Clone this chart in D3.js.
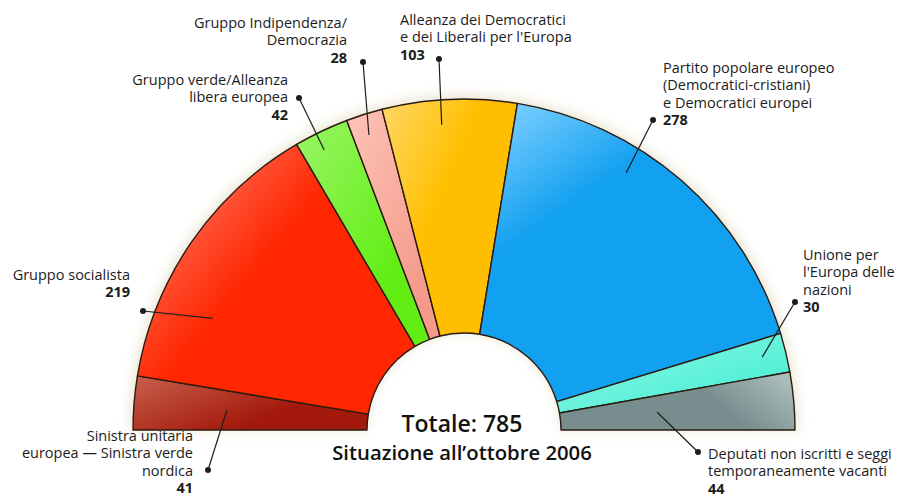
<!DOCTYPE html>
<html>
<head>
<meta charset="utf-8">
<script src="https://cdn.jsdelivr.net/npm/d3@7"></script>
<style>
  html, body { margin: 0; padding: 0; background: #fff; }
  svg { display: block; }
</style>
</head>
<body>
<div id="chart"></div>
<script>
(() => {
  // seats per group, left to right round the hemicycle
  const groups = [
    "Sinistra unitaria europea — Sinistra verde nordica",
    "Gruppo socialista",
    "Gruppo verde/Alleanza libera europea",
    "Gruppo Indipendenza/Democrazia",
    "Alleanza dei Democratici e dei Liberali per l'Europa",
    "Partito popolare europeo (Democratici-cristiani) e Democratici europei",
    "Unione per l'Europa delle nazioni",
    "Deputati non iscritti e seggi temporaneamente vacanti"
  ];
  const seats = [41, 219, 42, 28, 103, 278, 30, 44];
  const labelLines = [
    ["Sinistra unitaria", "europea — Sinistra verde", "nordica"],
    ["Gruppo socialista"],
    ["Gruppo verde/Alleanza", "libera europea"],
    ["Gruppo Indipendenza/", "Democrazia"],
    ["Alleanza dei Democratici", "e dei Liberali per l'Europa"],
    ["Partito popolare europeo", "(Democratici-cristiani)", "e Democratici europei"],
    ["Unione per", "l'Europa delle", "nazioni"],
    ["Deputati non iscritti e seggi", "temporaneamente vacanti"]
  ];
  const totalLabel = "Totale: " + d3.sum(seats);
  const subtitle = "Situazione all’ottobre 2006";

  // styles
  const baseColors  = ["#a3190b", "#ff2600", "#62ee14", "#f59a8a", "#ffbf00", "#12a0f0", "#4cefd4", "#788e8e"];
  const lightColors = ["#c9604e", "#ff7a66", "#9af566", "#fcc4b8", "#ffd866", "#7ccfff", "#96f7e8", "#b4c4c4"];
  // gradient direction per slice (light end first) and where the base colour takes over
  const gradDir = [
    [0, 0, 1, 0.6], [0.05, 0.15, 0.6, 0.6], [0, 0, 1, 1], [0, 0, 1, 1],
    [0, 0, 0.8, 0.6], [0.1, 0, 0.45, 0.5], [0, 0, 1, 1], [1, 0, 0, 0.3]
  ];
  const gradStop = [0.75, 0.7, 0.7, 0.8, 0.6, 0.65, 0.8, 0.45];

  // callout layout: dot position, leader end (fraction across slice, radius), text anchor
  const callouts = [
    { dot: [208, 470], t: 0.50, r: 238, anchor: "end",   tx: 193, ty: 441 },
    { dot: [143, 311], t: 0.29, r: 275, anchor: "end",   tx: 130, ty: 280 },
    { dot: [299, 98],  t: 0.40, r: 313, anchor: "end",   tx: 288, ty: 85 },
    { dot: [363, 62],  t: 0.45, r: 310, anchor: "end",   tx: 347, ty: 28 },
    { dot: [439, 59],  t: 0.43, r: 306, anchor: "start", tx: 400, ty: 25 },
    { dot: [653, 120], t: 0.36, r: 304, anchor: "start", tx: 663, ty: 73 },
    { dot: [795, 302], t: 0.47, r: 307, anchor: "start", tx: 803, ty: 260 },
    { dot: [698, 452], t: 0.48, r: 194, anchor: "start", tx: 708, ty: 459 }
  ];

  const W = 899, H = 497;
  const cx = 464, cy = 430, outerR = 331, innerR = 97;
  const lineH = 17.4;

  const svg = d3.select("#chart").append("svg")
    .attr("width", W).attr("height", H)
    .style("font-family", "'Open Sans', 'Noto Sans', sans-serif");

  const defs = svg.append("defs");
  defs.append("filter").attr("id", "glow")
    .attr("x", "-10%").attr("y", "-10%").attr("width", "120%").attr("height", "120%")
    .append("feGaussianBlur").attr("stdDeviation", 6);

  baseColors.forEach((c, i) => {
    const g = defs.append("linearGradient").attr("id", "grad" + i)
      .attr("x1", gradDir[i][0]).attr("y1", gradDir[i][1])
      .attr("x2", gradDir[i][2]).attr("y2", gradDir[i][3]);
    g.append("stop").attr("offset", 0).attr("stop-color", lightColors[i]);
    g.append("stop").attr("offset", gradStop[i]).attr("stop-color", c);
    g.append("stop").attr("offset", 1).attr("stop-color", c);
  });

  const pie = d3.pie().sort(null).value(d => d)
    .startAngle(-Math.PI / 2).endAngle(Math.PI / 2);
  const arcs = pie(seats);

  const arc = d3.arc().innerRadius(innerR).outerRadius(outerR);

  const chart = svg.append("g").attr("transform", `translate(${cx},${cy})`);

  // soft halo around the hemicycle
  chart.append("path")
    .attr("d", d3.arc().innerRadius(innerR).outerRadius(outerR + 4)
      .startAngle(-Math.PI / 2).endAngle(Math.PI / 2)())
    .attr("fill", "#e9e3cf")
    .attr("opacity", 0.9)
    .attr("filter", "url(#glow)");

  chart.selectAll("path.slice")
    .data(arcs)
    .enter()
    .append("path")
    .attr("class", "slice")
    .attr("d", arc)
    .attr("fill", (d, i) => `url(#grad${i})`)
    .attr("stroke", "#2a1a10")
    .attr("stroke-width", 1.4)
    .attr("stroke-linejoin", "round");

  // callouts
  const ink = "#1e1e1e";
  arcs.forEach((a, i) => {
    const c = callouts[i];
    const ang = a.startAngle + (a.endAngle - a.startAngle) * c.t;
    const ex = cx + c.r * Math.sin(ang);
    const ey = cy - c.r * Math.cos(ang);

    svg.append("line")
      .attr("x1", ex).attr("y1", ey)
      .attr("x2", c.dot[0]).attr("y2", c.dot[1])
      .attr("stroke", ink).attr("stroke-width", 1.2);
    svg.append("circle")
      .attr("cx", c.dot[0]).attr("cy", c.dot[1]).attr("r", 3)
      .attr("fill", ink);

    const txt = svg.append("text")
      .attr("text-anchor", c.anchor)
      .attr("font-size", 14.5)
      .attr("fill", "#1c1c1c");
    labelLines[i].forEach((ln, k) => {
      txt.append("tspan").attr("x", c.tx).attr("y", c.ty + k * lineH).text(ln);
    });
    txt.append("tspan")
      .attr("x", c.tx).attr("y", c.ty + labelLines[i].length * lineH)
      .attr("font-weight", 700)
      .text(seats[i]);
  });

  // centre text
  svg.append("text")
    .attr("x", 462).attr("y", 432)
    .attr("text-anchor", "middle")
    .attr("font-size", 23).attr("font-weight", 600)
    .attr("fill", "#111")
    .text(totalLabel);
  svg.append("text")
    .attr("x", 462).attr("y", 460)
    .attr("text-anchor", "middle")
    .attr("font-size", 20.3).attr("font-weight", 600)
    .attr("fill", "#111")
    .text(subtitle);
})();
</script>
</body>
</html>
